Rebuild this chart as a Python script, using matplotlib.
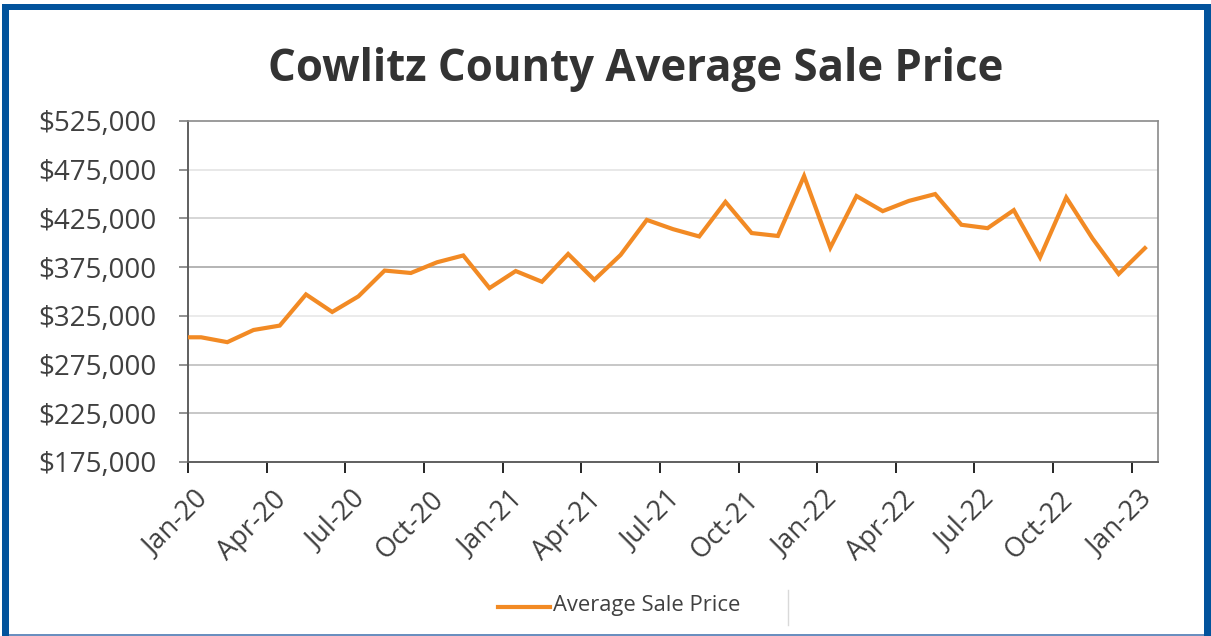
import matplotlib.pyplot as plt
import matplotlib.transforms as mtransforms
from matplotlib.patches import Rectangle
from matplotlib.lines import Line2D
from matplotlib.ticker import FuncFormatter

plt.rcParams['font.family'] = ['Open Sans', 'DejaVu Sans']

# monthly average sale price, Jan-20 .. Jan-23
months = ['Jan-20', 'Feb-20', 'Mar-20', 'Apr-20', 'May-20', 'Jun-20', 'Jul-20', 'Aug-20',
          'Sep-20', 'Oct-20', 'Nov-20', 'Dec-20', 'Jan-21', 'Feb-21', 'Mar-21', 'Apr-21',
          'May-21', 'Jun-21', 'Jul-21', 'Aug-21', 'Sep-21', 'Oct-21', 'Nov-21', 'Dec-21',
          'Jan-22', 'Feb-22', 'Mar-22', 'Apr-22', 'May-22', 'Jun-22', 'Jul-22', 'Aug-22',
          'Sep-22', 'Oct-22', 'Nov-22', 'Dec-22', 'Jan-23']
prices = [303000, 298000, 310500, 315000, 347000, 329000, 345000, 371500,
          369000, 380000, 387000, 353500, 371000, 360000, 388500, 362000,
          387500, 423500, 414000, 406500, 442000, 410000, 407000, 468500,
          395000, 448000, 432500, 443000, 450000, 418500, 415000, 433500,
          385000, 446500, 404500, 368000, 394500]
# the line enters the plot from the left at the same level as Jan-20
lead_in_price = 303000

yticks = [175000, 225000, 275000, 325000, 375000, 425000, 475000, 525000]
xtick_labels = months[::3]

orange = '#F28A24'
text_col = '#404040'
blue = '#02539C'

fig = plt.figure(figsize=(12.11, 6.36), dpi=100)

# outer blue frame
fig.patches.append(Rectangle((2 / 1211, 0), 7 / 1211, 1 - 4 / 636, transform=fig.transFigure,
                             facecolor=blue, edgecolor='none'))
fig.patches.append(Rectangle((1204 / 1211, 0), 7 / 1211, 1 - 4 / 636, transform=fig.transFigure,
                             facecolor=blue, edgecolor='none'))
fig.patches.append(Rectangle((2 / 1211, 1 - 10 / 636), 1209 / 1211, 6 / 636, transform=fig.transFigure,
                             facecolor=blue, edgecolor='none'))
fig.patches.append(Rectangle((9 / 1211, 0), 1195 / 1211, 2 / 636, transform=fig.transFigure,
                             facecolor='#6A8FBF', edgecolor='none'))

ax = fig.add_axes([188 / 1211, 1 - 462 / 636, 970 / 1211, 341 / 636])

x = [i + 0.5 for i in range(len(months))]
ax.plot([-0.5] + x, [lead_in_price] + prices, color=orange, lw=3.0,
        solid_joinstyle='miter', clip_on=True, zorder=3)

ax.set_xlim(0, len(months))
ax.set_ylim(175000, 525000)

grid_cols = {225000: '#bdbdbd', 275000: '#bdbdbd', 325000: '#e8e8e8',
             375000: '#a8a8a8', 425000: '#cfcfcf', 475000: '#e4e4e4'}
for yv, c in grid_cols.items():
    ax.axhline(yv, color=c, lw=1.2, zorder=1)

ax.set_yticks(yticks)
ax.yaxis.set_major_formatter(FuncFormatter(lambda v, p: f'${v:,.0f}'))
ax.tick_params(axis='y', labelsize=20, colors='#7f7f7f', labelcolor=text_col,
               length=6.5, width=1.2, pad=16)

ax.set_xticks(range(0, len(months), 3))
ax.set_xticklabels(xtick_labels, rotation=45, ha='right', rotation_mode='anchor')
ax.tick_params(axis='x', labelsize=19.5, labelcolor=text_col, length=8, width=1.2, pad=4)
for i, t in enumerate(ax.xaxis.get_major_ticks()):
    t.tick1line.set_color('#6f6f6f' if i % 2 == 0 else '#e0e0e0')
shift = mtransforms.ScaledTranslation(6 / 100, -7 / 100, fig.dpi_scale_trans)
for lab in ax.get_xticklabels():
    lab.set_transform(lab.get_transform() + shift)

for side in ['left', 'bottom']:
    ax.spines[side].set_color('#5f5f5f')
    ax.spines[side].set_linewidth(1.4)
for side in ['top', 'right']:
    ax.spines[side].set_color('#8a8a8a')
    ax.spines[side].set_linewidth(1.2)

fig.text(636 / 1211, 1 - 70 / 636, 'Cowlitz County Average Sale Price', ha='center', va='center',
         fontsize=31.5, fontweight='bold', color='#333333')

# legend
fig.add_artist(Line2D([498 / 1211, 550 / 1211], [1 - 607 / 636, 1 - 607 / 636],
                      transform=fig.transFigure, color=orange, lw=3.0))
fig.text(553 / 1211, 1 - 606 / 636, 'Average Sale Price', ha='left', va='center',
         fontsize=15.8, color=text_col)
fig.add_artist(Line2D([788 / 1211, 788 / 1211], [1 - 590 / 636, 1 - 625 / 636],
                      transform=fig.transFigure, color='#d9d9d9', lw=1.0))

fig.savefig('out.png', dpi=100)
